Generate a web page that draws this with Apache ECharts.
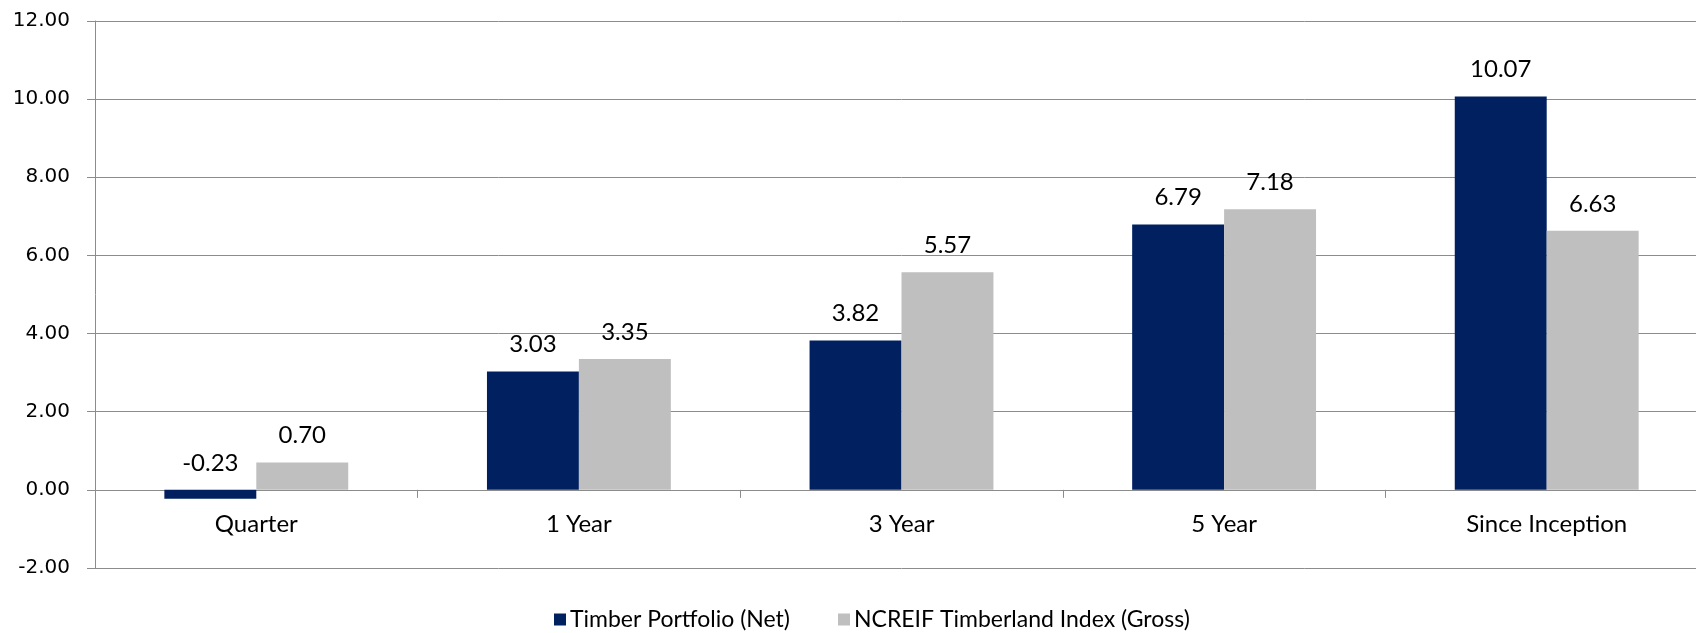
<!DOCTYPE html>
<html>
<head>
<meta charset="utf-8">
<script src="https://cdn.jsdelivr.net/npm/echarts@6/dist/echarts.min.js"></script>
<style>
html, body { margin: 0; padding: 0; background: #fff; overflow: hidden; }
/* plot runs past the right edge of the window, like the original */
#chart { width: 1708px; height: 633px; }
</style>
</head>
<body>
<div id="chart"></div>
<script>
// values
const categories = ['Quarter', '1 Year', '3 Year', '5 Year', 'Since Inception']
const timberNet = [-0.23, 3.03, 3.82, 6.79, 10.07]
const ncreifGross = [0.70, 3.35, 5.57, 7.18, 6.63]
const seriesNames = ['Timber Portfolio (Net)', 'NCREIF Timberland Index (Gross)']

const LABEL_FONT = 'Lato, "Noto Sans", sans-serif'
const GRID_COLOR = '#8c8c8c'

let chart = echarts.init(document.getElementById('chart'))

function barSeries(name, data, color){
  return {
    name: name,
    type: 'bar',
    data: data,
    barGap: '0%',
    barCategoryGap: '43%',
    itemStyle: { color: color },
    label: {
      show: true,
      position: 'top',
      distance: 13,
      color: '#000',
      fontFamily: LABEL_FONT,
      fontSize: 24,
      lineHeight: 28,
      formatter: p => p.value.toFixed(2)
    }
  }
}

chart.setOption({
  animation: false,
  grid: { left: 95, right: 0, top: 21, bottom: 65, containLabel: false },
  legend: {
    data: seriesNames,
    bottom: -3,
    left: 549,
    icon: 'rect',
    itemWidth: 12,
    itemHeight: 12,
    itemGap: 48,
    textStyle: { fontFamily: LABEL_FONT, fontSize: 23, color: '#000', padding: [0, 0, 0, -1] }
  },
  xAxis: {
    type: 'category',
    data: categories,
    axisLine: { onZero: true, lineStyle: { color: GRID_COLOR, width: 1 } },
    axisTick: { show: true, length: 8, lineStyle: { color: GRID_COLOR } },
    axisLabel: { margin: -56, color: '#000', fontFamily: LABEL_FONT, fontSize: 24 }
  },
  yAxis: {
    type: 'value',
    min: -2,
    max: 12,
    interval: 2,
    axisLine: { show: true, lineStyle: { color: GRID_COLOR, width: 1 } },
    axisTick: { show: true, length: 8, lineStyle: { color: GRID_COLOR } },
    splitLine: { show: true, lineStyle: { color: GRID_COLOR, width: 1 } },
    axisLabel: {
      margin: 25,
      color: '#000',
      fontFamily: '"DejaVu Sans", sans-serif',
      fontSize: 20,
      formatter: v => v.toFixed(2)
    }
  },
  series: [
    barSeries(seriesNames[0], timberNet, '#002060'),
    barSeries(seriesNames[1], ncreifGross, '#bfbfbf')
  ]
})
</script>
</body>
</html>
